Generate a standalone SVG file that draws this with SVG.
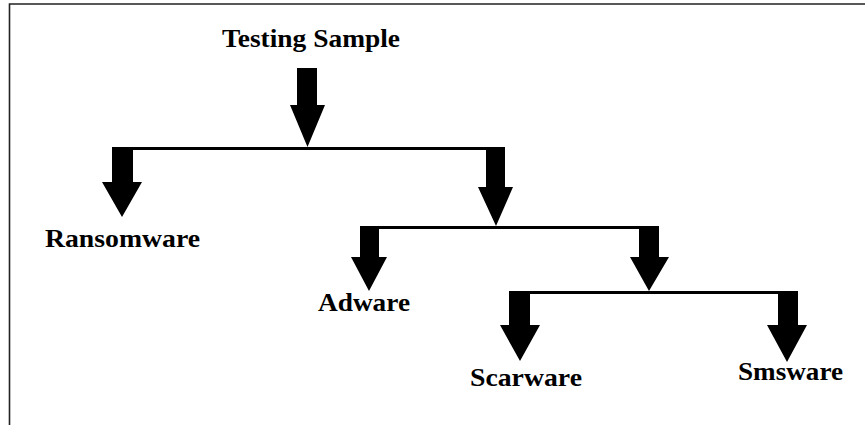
<svg xmlns="http://www.w3.org/2000/svg" width="865" height="425" viewBox="0 0 865 425">
  <style>
    .frame { fill: none; stroke: #222; stroke-width: 1.6; }
    .bar { fill: #000; }
    .arrow { fill: #000; }
    .label { font-family: "Liberation Serif", "Times New Roman", serif; font-weight: bold; font-size: 26px; fill: #000; }
  </style>
  <rect width="865" height="425" fill="#fff"/>
  <!-- page border: top and left edges only -->
  <path class="frame" d="M9.5 425 V4 H865"/>

  <g id="node-testing-sample">
    <text class="label" x="222" y="47" textLength="178" lengthAdjust="spacingAndGlyphs">Testing Sample</text>
  </g>
  <g id="node-ransomware">
    <text class="label" x="45" y="247" textLength="155" lengthAdjust="spacingAndGlyphs">Ransomware</text>
  </g>
  <g id="node-adware">
    <text class="label" x="318" y="311" textLength="92" lengthAdjust="spacingAndGlyphs">Adware</text>
  </g>
  <g id="node-scarware">
    <text class="label" x="470" y="386" textLength="112" lengthAdjust="spacingAndGlyphs">Scarware</text>
  </g>
  <g id="node-smsware">
    <text class="label" x="738" y="380" textLength="105" lengthAdjust="spacingAndGlyphs">Smsware</text>
  </g>

  <g id="connectors">
    <!-- branch bars -->
    <rect class="bar" x="112" y="147" width="393" height="3"/>
    <rect class="bar" x="360" y="226" width="299" height="3"/>
    <rect class="bar" x="509" y="291" width="289" height="3"/>
    <!-- block arrows: shaft then triangular head -->
    <polygon class="arrow" points="297,68 317,68 317,105 325,105 307.5,147 290,105 297,105"/>
    <polygon class="arrow" points="112,147 133,147 133,182 142,182 122,217 102,182 112,182"/>
    <polygon class="arrow" points="486,147 505,147 505,187 513,187 496,226 478,187 486,187"/>
    <polygon class="arrow" points="360,226 379,226 379,257 387,257 369,291 351,257 360,257"/>
    <polygon class="arrow" points="639,226 659,226 659,257 669,257 649,291 630,257 639,257"/>
    <polygon class="arrow" points="509,291 530,291 530,325 540,325 520,361 500,325 509,325"/>
    <polygon class="arrow" points="778,291 798,291 798,325 807,325 787,362 767,325 778,325"/>
  </g>
</svg>
